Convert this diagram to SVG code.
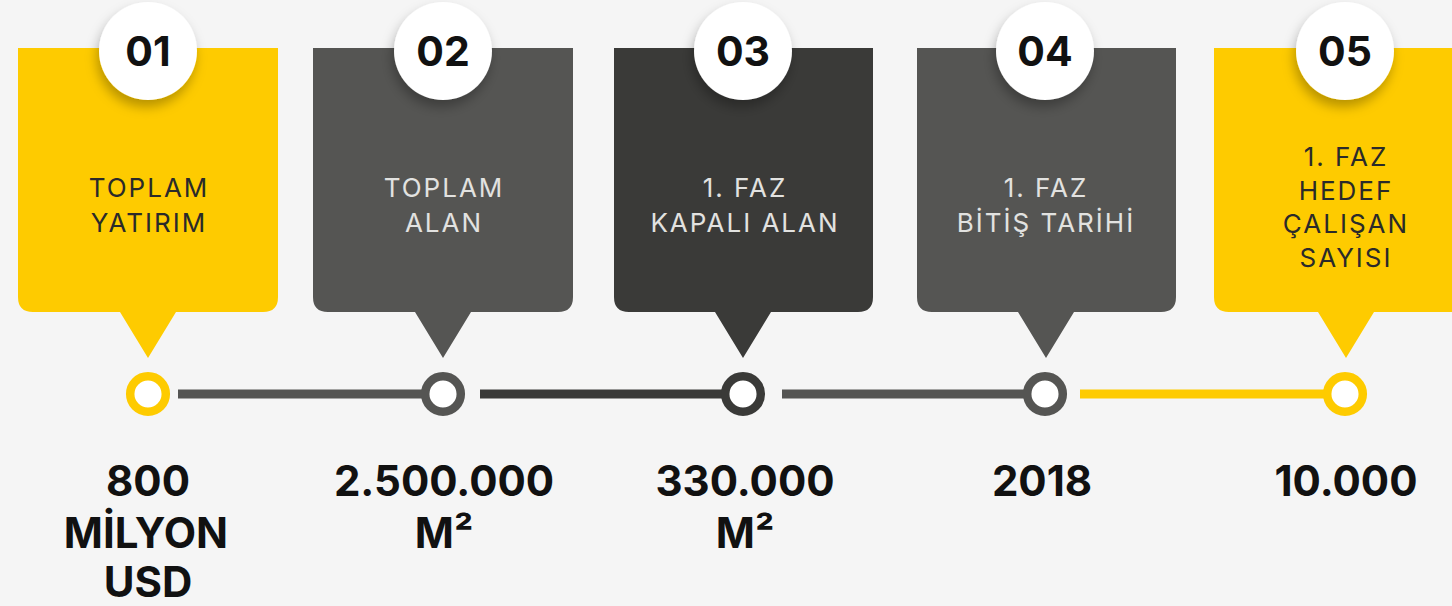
<svg xmlns="http://www.w3.org/2000/svg" width="1452" height="606" viewBox="0 0 1452 606">
<defs>
<filter id="sh" x="-40%" y="-40%" width="180%" height="190%">
<feDropShadow dx="-2" dy="7" stdDeviation="6" flood-color="#000" flood-opacity="0.28"/>
</filter>
<style>
.num{font-family:Inter,"Liberation Sans",sans-serif;font-weight:700;font-size:41px;fill:#111;text-anchor:middle}
.lbl{font-family:Inter,"Liberation Sans",sans-serif;font-weight:400;font-size:26px;letter-spacing:2px;text-anchor:middle}
.dk{fill:#2a2a2a}
.lt{fill:#e2e2e0}
.val{font-family:Inter,"Liberation Sans",sans-serif;font-weight:700;font-size:42px;fill:#111;text-anchor:middle}
.ring{fill:#fff;stroke-width:8.5}
.conn{stroke-width:9;fill:none}
.badge{fill:#fff;filter:url(#sh)}
</style>
</defs>
<rect width="1452" height="606" fill="#f5f5f5"/>
<g id="connectors">
<line class="conn" x1="178" y1="394" x2="425" y2="394" stroke="#555553"/>
<line class="conn" x1="480" y1="394" x2="725" y2="394" stroke="#3a3a38"/>
<line class="conn" x1="782" y1="394" x2="1027" y2="394" stroke="#555553"/>
<line class="conn" x1="1080" y1="394" x2="1327" y2="394" stroke="#fecb00"/>
</g>
<g id="node1">
<path d="M18 48 H278 V297 Q278 312 263 312 H176 L148 358 L120 312 H33 Q18 312 18 297 Z" fill="#fecb00"/>
<circle class="badge" cx="148" cy="51" r="49"/>
<text class="num" x="148" y="66">01</text>
<text class="lbl dk" x="149" y="197">TOPLAM</text>
<text class="lbl dk" x="149" y="232">YATIRIM</text>
<circle class="ring" cx="148" cy="394" r="17.8" stroke="#fecb00"/>
<text class="val" x="148" y="496">800</text>
<text class="val" x="146" y="548">MİLYON</text>
<text class="val" x="148" y="597">USD</text>
</g>
<g id="node2">
<path d="M313 48 H573 V297 Q573 312 558 312 H471 L443 358 L415 312 H328 Q313 312 313 297 Z" fill="#555553"/>
<circle class="badge" cx="443" cy="51" r="49"/>
<text class="num" x="443" y="66">02</text>
<text class="lbl lt" x="444" y="197">TOPLAM</text>
<text class="lbl lt" x="444" y="232">ALAN</text>
<circle class="ring" cx="443" cy="394" r="17.8" stroke="#555553"/>
<text class="val" x="444" y="496">2.500.000</text>
<text class="val" x="444" y="548">M²</text>
</g>
<g id="node3">
<path d="M614 48 H873 V297 Q873 312 858 312 H771 L743 358 L715 312 H629 Q614 312 614 297 Z" fill="#3a3a38"/>
<circle class="badge" cx="743" cy="51" r="49"/>
<text class="num" x="743" y="66">03</text>
<text class="lbl lt" x="745" y="197">1. FAZ</text>
<text class="lbl lt" x="745" y="232">KAPALI ALAN</text>
<circle class="ring" cx="743" cy="394" r="17.8" stroke="#3a3a38"/>
<text class="val" x="745" y="496">330.000</text>
<text class="val" x="745" y="548">M²</text>
</g>
<g id="node4">
<path d="M917 48 H1176 V297 Q1176 312 1161 312 H1074 L1046 358 L1018 312 H932 Q917 312 917 297 Z" fill="#555553"/>
<circle class="badge" cx="1045" cy="51" r="49"/>
<text class="num" x="1045" y="66">04</text>
<text class="lbl lt" x="1046" y="197">1. FAZ</text>
<text class="lbl lt" x="1046" y="232">BİTİŞ TARİHİ</text>
<circle class="ring" cx="1045" cy="394" r="17.8" stroke="#555553"/>
<text class="val" x="1042" y="496">2018</text>
</g>
<g id="node5">
<path d="M1214 48 H1476 V297 Q1476 312 1461 312 H1374 L1346 358 L1318 312 H1229 Q1214 312 1214 297 Z" fill="#fecb00"/>
<circle class="badge" cx="1345" cy="51" r="49"/>
<text class="num" x="1345" y="66">05</text>
<text class="lbl dk" x="1346" y="166">1. FAZ</text>
<text class="lbl dk" x="1346" y="200">HEDEF</text>
<text class="lbl dk" x="1346" y="233">ÇALIŞAN</text>
<text class="lbl dk" x="1346" y="267">SAYISI</text>
<circle class="ring" cx="1345" cy="394" r="17.8" stroke="#fecb00"/>
<text class="val" x="1346" y="496">10.000</text>
</g>
</svg>
